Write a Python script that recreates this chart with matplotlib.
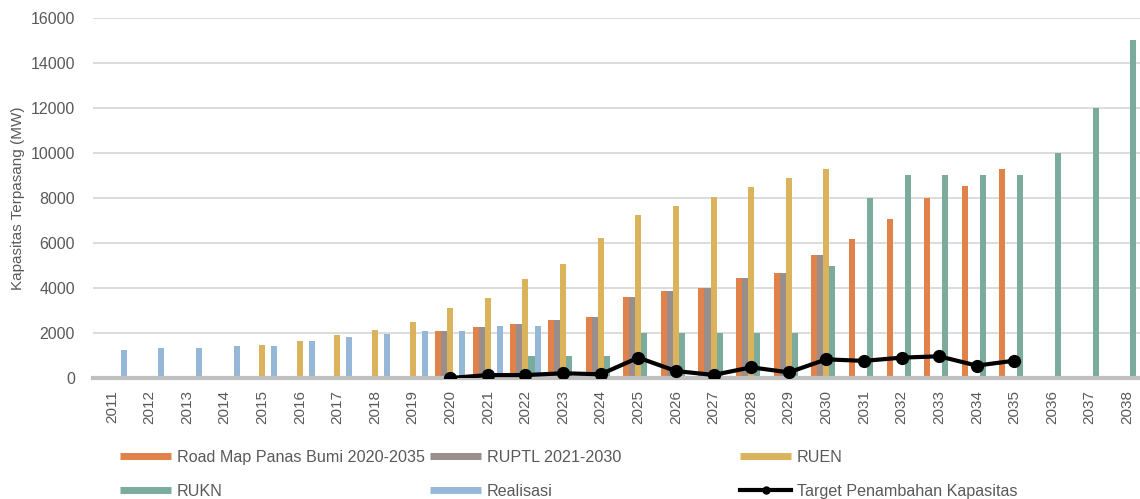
import matplotlib.pyplot as plt
from matplotlib.lines import Line2D
import numpy as np

plt.rcParams['font.family'] = ['Liberation Sans', 'DejaVu Sans']

years = [str(y) for y in range(2011, 2039)]

# capacity per year (MW); None = no bar
road_map = [None] * 9 + [2110, 2260, 2390, 2570, 2700, 3600, 3850, 3980, 4430,
                         4650, 5450, 6180, 7060, 8000, 8530, 9280, None, None, None]
ruptl = [None] * 9 + [2110, 2260, 2390, 2570, 2700, 3600, 3850, 3980, 4430,
                      4650, 5450] + [None] * 8
ruen = [None] * 4 + [1460, 1640, 1900, 2130, 2470, 3110, 3550, 4400, 5050, 6210,
                     7240, 7640, 8030, 8490, 8890, 9280] + [None] * 8
rukn = [None] * 11 + [1000, 1000, 1000, 2000, 2000, 2000, 2000, 2000, 5000,
                      8000, 9000, 9000, 9000, 9000, 10000, 12000, 15000]
realisasi = [1250, 1320, 1320, 1430, 1430, 1640, 1820, 1950, 2110, 2110,
             2290, 2330] + [None] * 16
target = [None] * 9 + [0, 130, 130, 210, 165, 905, 310, 135, 475, 250, 830,
                       760, 905, 965, 550, 770, None, None, None]

series = [
    ("Road Map Panas Bumi 2020-2035", road_map, "#e0824a"),
    ("RUPTL 2021-2030", ruptl, "#988e8c"),
    ("RUEN", ruen, "#dbb35c"),
    ("RUKN", rukn, "#7aab9c"),
    ("Realisasi", realisasi, "#95b8d9"),
]

text_color = "#595959"

fig = plt.figure(figsize=(11.4, 4.99), dpi=100)
ax = fig.add_axes([93 / 1140, 121 / 499, 1053 / 1140, 360 / 499])

x = np.arange(len(years))
bw = 0.16
for i, (name, vals, color) in enumerate(series):
    v = np.array([np.nan if a is None else a for a in vals], dtype=float)
    ax.bar(x + (i - 2) * bw, v, width=bw, color=color, zorder=2)

t = np.array([np.nan if a is None else a for a in target], dtype=float)
ax.plot(x, t, color="black", lw=3, marker="o", markersize=8.5, zorder=4)

ax.set_xlim(-0.5, len(years) - 0.5)
ax.set_ylim(0, 16000)
ax.set_yticks(range(0, 16001, 2000))
ax.set_xticks(x)
ax.set_xticklabels(years, rotation=90)
ax.tick_params(axis="both", length=0, labelcolor=text_color)
ax.tick_params(axis="x", pad=9, labelsize=11)
ax.tick_params(axis="y", pad=13, labelsize=11.5)
ax.grid(axis="y", color="#d9d9d9", lw=1.3, zorder=0)
ax.set_axisbelow(True)
for side in ("left", "right", "top"):
    ax.spines[side].set_visible(False)
ax.spines["bottom"].set_color("#bfbfbf")
ax.spines["bottom"].set_linewidth(3)
ax.spines["bottom"].set_zorder(3)
ax.set_ylabel("Kapasitas Terpasang (MW)", fontsize=11, color=text_color, labelpad=4)

# three legend columns, evenly spaced like the spreadsheet legend
def bar_handle(color):
    return Line2D([], [], color=color, lw=5, solid_capstyle="butt")

columns = [
    [(bar_handle(series[0][2]), series[0][0]), (bar_handle(series[3][2]), series[3][0])],
    [(bar_handle(series[1][2]), series[1][0]), (bar_handle(series[4][2]), series[4][0])],
    [(bar_handle(series[2][2]), series[2][0]),
     (Line2D([], [], color="black", lw=3, marker="o", markersize=5),
      "Target Penambahan Kapasitas")],
]
for k, col in enumerate(columns):
    leg = fig.legend([h for h, _ in col], [l for _, l in col],
                     loc="upper left", bbox_to_anchor=((120 + 310 * k) / 1140, 1 - 450 / 499),
                     frameon=False, fontsize=11.6, handlelength=3.17, handletextpad=0.37,
                     labelspacing=1.16, numpoints=1, borderpad=0, borderaxespad=0)
    for txt in leg.get_texts():
        txt.set_color(text_color)

fig.savefig("out.png", dpi=100)
